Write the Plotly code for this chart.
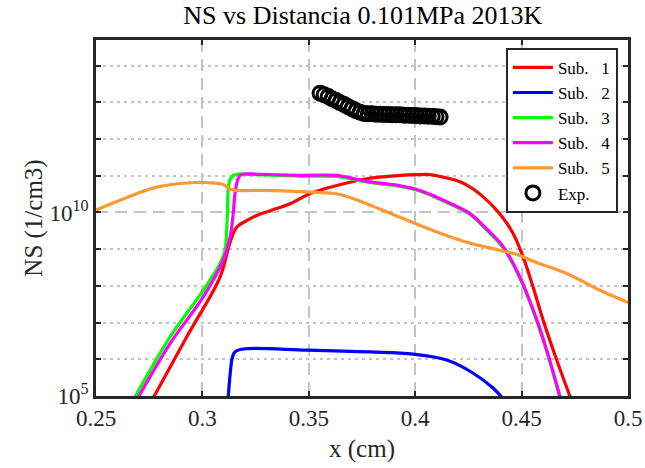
import plotly.graph_objects as go

# ---------------- data (x in cm, NS as log10 exponent) ----------------
sub1_x = [0.2769, 0.2926, 0.3083, 0.3130, 0.3161, 0.3208, 0.3255, 0.3318, 0.3412, 0.3506,
          0.3614, 0.3772, 0.3929, 0.4007, 0.4070, 0.4163, 0.4195, 0.4239, 0.4305,
          0.4398, 0.4460, 0.4507, 0.4554, 0.4601, 0.4665, 0.4730]
sub1_e = [4.95, 6.61, 8.24, 9.19, 9.60, 9.78, 9.92, 10.05, 10.24, 10.52,
          10.71, 10.92, 11.01, 11.03, 11.03, 10.92, 10.87, 10.76, 10.50,
          9.96, 9.43, 8.79, 7.97, 7.07, 5.98, 4.95]

sub2_x = [0.3121, 0.3138, 0.3144, 0.3153, 0.3192, 0.3490, 0.3788, 0.3991, 0.4148, 0.4273,
          0.4367, 0.4409]
sub2_e = [4.95, 5.98, 6.11, 6.20, 6.28, 6.25, 6.20, 6.14, 5.98, 5.62,
          5.21, 4.95]

sub3_x = [0.2681, 0.2848, 0.3004, 0.3083, 0.3106, 0.3114, 0.3118, 0.3122, 0.3130, 0.3145,
          0.3167, 0.3224, 0.3459, 0.3631, 0.3772, 0.3929, 0.4023, 0.4179, 0.4258, 0.4336,
          0.4414, 0.4492, 0.4555, 0.4618, 0.4680]
sub3_e = [4.95, 6.61, 7.88, 8.61, 8.97, 9.51, 10.05, 10.69, 10.90, 11.01,
          11.05, 11.04, 10.99, 10.98, 10.83, 10.71, 10.58, 10.19, 9.95, 9.52,
          9.03, 8.21, 7.31, 6.22, 4.95]

sub4_x = [0.2697, 0.2848, 0.3004, 0.3098, 0.3130, 0.3144, 0.3153, 0.3165, 0.3177, 0.3195,
          0.3224, 0.3459, 0.3631, 0.3772, 0.3929, 0.4023, 0.4179, 0.4258, 0.4336, 0.4414,
          0.4492, 0.4555, 0.4618, 0.4682]
sub4_e = [4.95, 6.43, 7.70, 8.70, 9.33, 9.92, 10.51, 10.87, 11.01, 11.05,
          11.05, 11.01, 11.01, 10.85, 10.73, 10.60, 10.21, 9.97, 9.55, 9.07,
          8.24, 7.34, 6.25, 4.95]

sub5_x = [0.2500, 0.2628, 0.2785, 0.2942, 0.3036, 0.3098, 0.3130, 0.3161, 0.3255, 0.3412,
          0.3568, 0.3647, 0.3772, 0.3929, 0.4084, 0.4242, 0.4398, 0.4492, 0.4554, 0.4712,
          0.4868, 0.5000]
sub5_e = [10.07, 10.37, 10.69, 10.81, 10.81, 10.76, 10.64, 10.60, 10.60, 10.58,
          10.54, 10.49, 10.24, 9.87, 9.51, 9.19, 8.97, 8.83, 8.67, 8.34,
          7.88, 7.55]

exp_x = [0.3553, 0.3572, 0.3591, 0.3609, 0.3628, 0.3647, 0.3666, 0.3685, 0.3703, 0.3722,
         0.3741, 0.3760, 0.3779, 0.3798, 0.3816, 0.3835, 0.3854, 0.3873, 0.3892, 0.3910,
         0.3929, 0.3948, 0.3967, 0.3986, 0.4004, 0.4023, 0.4042, 0.4061, 0.4080, 0.4098,
         0.4117]
exp_e = [13.25, 13.21, 13.16, 13.10, 13.05, 12.99, 12.94, 12.88, 12.83, 12.77,
         12.73, 12.70, 12.69, 12.69, 12.68, 12.68, 12.67, 12.67, 12.66, 12.66,
         12.66, 12.65, 12.65, 12.64, 12.64, 12.63, 12.63, 12.62, 12.62, 12.61,
         12.60]

x_ticks = [0.25, 0.3, 0.35, 0.4, 0.45, 0.5]
x_ticktext = ["0.25", "0.3", "0.35", "0.4", "0.45", "0.5"]
y_major = [1e5, 1e10]
y_major_text = ["10<sup>5</sup>", "10<sup>10</sup>"]
y_minor = [1e6, 1e7, 1e8, 1e9, 1e11, 1e12, 1e13, 1e14]

NB = "\u00a0"
series = [
    ("Sub." + NB * 3 + "1", sub1_x, sub1_e, "#ff0000"),
    ("Sub." + NB * 3 + "2", sub2_x, sub2_e, "#0000ff"),
    ("Sub." + NB * 3 + "3", sub3_x, sub3_e, "#00ff00"),
    ("Sub." + NB * 3 + "4", sub4_x, sub4_e, "#ff00ff"),
    ("Sub." + NB * 3 + "5", sub5_x, sub5_e, "#ff9933"),
]

FONT = "Liberation Serif"
AX = "#262626"
GRID = "#c4c4c4"

fig = go.Figure()
for i, (name, xs, es, col) in enumerate(series):
    fig.add_trace(go.Scatter(
        x=xs, y=[10 ** e for e in es], mode="lines", name=name,
        legendgroup=f"g{i}",
        line=dict(color=col, width=3.2, shape="spline", smoothing=1.0)))

fig.add_trace(go.Scatter(
    x=exp_x, y=[10 ** e for e in exp_e], mode="markers", name="Exp.",
    legendgroup="g5",
    marker=dict(symbol="circle-open", size=14, color="black",
                line=dict(width=3, color="black"))))

fig.update_layout(
    width=645, height=468,
    margin=dict(l=96, r=17, t=40, b=72, autoexpand=False),
    paper_bgcolor="white", plot_bgcolor="white",
    font=dict(family=FONT, size=23, color=AX),
    title=dict(text="NS vs Distancia 0.101MPa 2013K", x=0.5625, xanchor="center",
               y=0.968, yanchor="middle", font=dict(family=FONT, size=26, color="black")),
    showlegend=True,
    legend=dict(x=0.981, xanchor="right", y=0.978, yanchor="top",
                bgcolor="white", bordercolor=AX, borderwidth=2,
                font=dict(family=FONT, size=17, color="black"),
                tracegroupgap=0, itemwidth=40),
    xaxis=dict(
        range=[0.25, 0.5], tickvals=x_ticks, ticktext=x_ticktext,
        ticks="inside", ticklen=5, tickwidth=2, tickcolor=AX,
        showline=True, linecolor=AX, linewidth=2.5, mirror="allticks",
        showgrid=True, gridcolor=GRID, gridwidth=2, griddash="12px,7px",
        zeroline=False, automargin=False,
        title=dict(text="x (cm)", font=dict(family=FONT, size=25, color=AX), standoff=10),
        tickfont=dict(family=FONT, size=23, color=AX),
    ),
    yaxis=dict(
        type="log", range=[5, 14.7], tickvals=y_major, ticktext=y_major_text,
        ticks="inside", ticklen=5, tickwidth=2, tickcolor=AX,
        showline=True, linecolor=AX, linewidth=2.5, mirror="allticks",
        showgrid=True, gridcolor=GRID, gridwidth=2, griddash="12px,7px",
        zeroline=False, automargin=False,
        minor=dict(tickvals=y_minor, ticks="inside", ticklen=5, tickwidth=2,
                   tickcolor=AX, showgrid=True, gridcolor=GRID, gridwidth=2,
                   griddash="3px,4px"),
        title=dict(text="NS (1/cm3)", font=dict(family=FONT, size=25, color=AX), standoff=0),
        tickfont=dict(family=FONT, size=23, color=AX),
    ),
)

fig.write_html("out.html")
